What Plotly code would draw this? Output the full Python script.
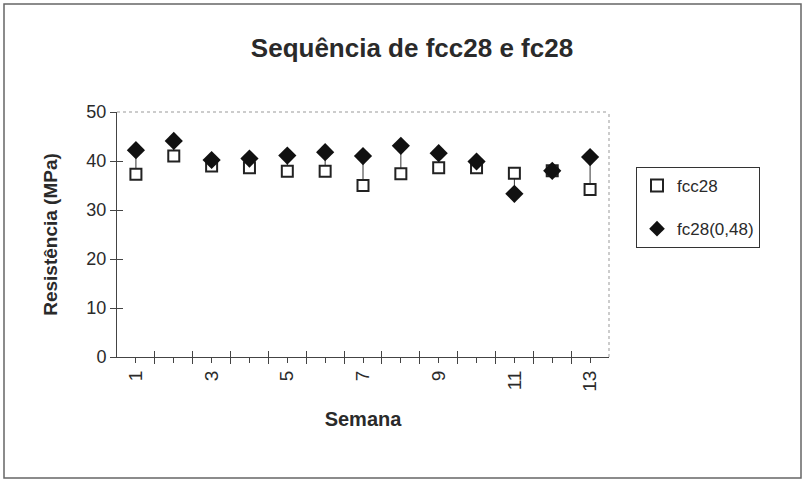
import plotly.graph_objects as go

semanas = list(range(1, 14))
fcc28 = [37.3, 41.0, 39.0, 38.6, 37.9, 37.9, 35.0, 37.4, 38.6, 38.6, 37.5, 38.0, 34.2]
fc28 = [42.2, 44.1, 40.2, 40.5, 41.1, 41.8, 41.0, 43.1, 41.6, 39.9, 33.3, 38.0, 40.8]
x_tick_labels = [str(s) if s % 2 == 1 else "" for s in semanas]
y_ticks = [0, 10, 20, 30, 40, 50]

FONT = "Liberation Sans, Arial, sans-serif"
INK = "#2a2a2a"

# high-low connector lines built from data
lx, ly = [], []
for s, a, b in zip(semanas, fcc28, fc28):
    lx += [s, s, None]
    ly += [a, b, None]

boundaries = [s + 0.5 for s in semanas[:-1]]

fig = go.Figure()
fig.add_trace(go.Scatter(x=lx, y=ly, mode="lines", line=dict(color="#333", width=1),
                         showlegend=False, hoverinfo="skip"))
fig.add_trace(go.Scatter(x=semanas, y=fcc28, mode="markers", name="fcc28",
                         legendgroup="a",
                         marker=dict(symbol="square", size=11, color="white",
                                     line=dict(color="#222", width=2))))
fig.add_trace(go.Scatter(x=semanas, y=fc28, mode="markers", name="fc28(0,48)",
                         legendgroup="b",
                         marker=dict(symbol="diamond", size=14, color="#111",
                                     line=dict(color="#111", width=0))))
# invisible trace to activate the cross-tick overlay axes
fig.add_trace(go.Scatter(x=[None], y=[None], xaxis="x2", yaxis="y2",
                         showlegend=False, hoverinfo="skip"))

fig.update_layout(
    width=806, height=481,
    margin=dict(l=117, r=197, t=112, b=124),
    paper_bgcolor="white", plot_bgcolor="white",
    font=dict(family=FONT, color=INK, size=15),
    title=dict(text="<b>Sequência de fcc28 e fc28</b>", x=412 / 806, xanchor="center",
               xref="container", y=1 - 48 / 481, yanchor="middle",
               font=dict(size=26, family=FONT, color=INK)),
    legend=dict(x=(636 - 117) / 492, y=(357 - 167) / 245, xanchor="left", yanchor="top",
                bordercolor="#333", borderwidth=1, bgcolor="white",
                font=dict(size=17, family=FONT, color=INK),
                itemsizing="constant", tracegroupgap=18, itemwidth=30),
    xaxis=dict(range=[0.5, 13.5], tickmode="array", tickvals=semanas,
               ticktext=x_tick_labels, tickangle=-90,
               showgrid=False, zeroline=False, showline=True, linecolor="#444",
               linewidth=1, ticks="outside", ticklen=5, tickcolor="#444",
               minor=dict(tickmode="array", tickvals=boundaries,
                          ticks="outside", ticklen=6, tickcolor="#444"),
               title=dict(text="<b>Semana</b>", font=dict(size=20, family=FONT, color=INK),
                          standoff=21),
               tickfont=dict(size=19, family=FONT, color=INK), fixedrange=True),
    xaxis2=dict(range=[0.5, 13.5], overlaying="x", anchor="y", side="bottom",
                tickmode="array", tickvals=boundaries, showticklabels=False,
                ticks="inside", ticklen=6, tickcolor="#444", showgrid=False,
                zeroline=False, showline=False, fixedrange=True),
    yaxis=dict(range=[0, 50], tickvals=y_ticks, showgrid=False, zeroline=False,
               showline=True, linecolor="#444", linewidth=1, ticks="outside",
               ticklen=6, tickcolor="#444",
               title=dict(text="<b>Resistência (MPa)</b>", font=dict(size=19, family=FONT, color=INK),
                          standoff=23),
               tickfont=dict(size=18, family=FONT, color=INK), fixedrange=True),
    yaxis2=dict(range=[0, 50], overlaying="y", anchor="x", side="left",
                tickvals=y_ticks, showticklabels=False, ticks="inside", ticklen=6,
                tickcolor="#444", showgrid=False, zeroline=False, showline=False,
                fixedrange=True),
    shapes=[
        # dotted top/right of plot area
        dict(type="line", xref="paper", yref="paper", x0=0, x1=1, y0=1, y1=1,
             line=dict(color="#999", width=1, dash="dot")),
        dict(type="line", xref="paper", yref="paper", x0=1, x1=1, y0=0, y1=1,
             line=dict(color="#999", width=1, dash="dot")),
        # outer chart frame
        dict(type="rect", xref="paper", yref="paper",
             x0=(4 - 117) / 492, x1=(801 - 117) / 492,
             y0=(357 - 478) / 245, y1=(357 - 4) / 245,
             line=dict(color="#666", width=1.5), layer="below"),
    ],
)

fig.write_html("out.html")
